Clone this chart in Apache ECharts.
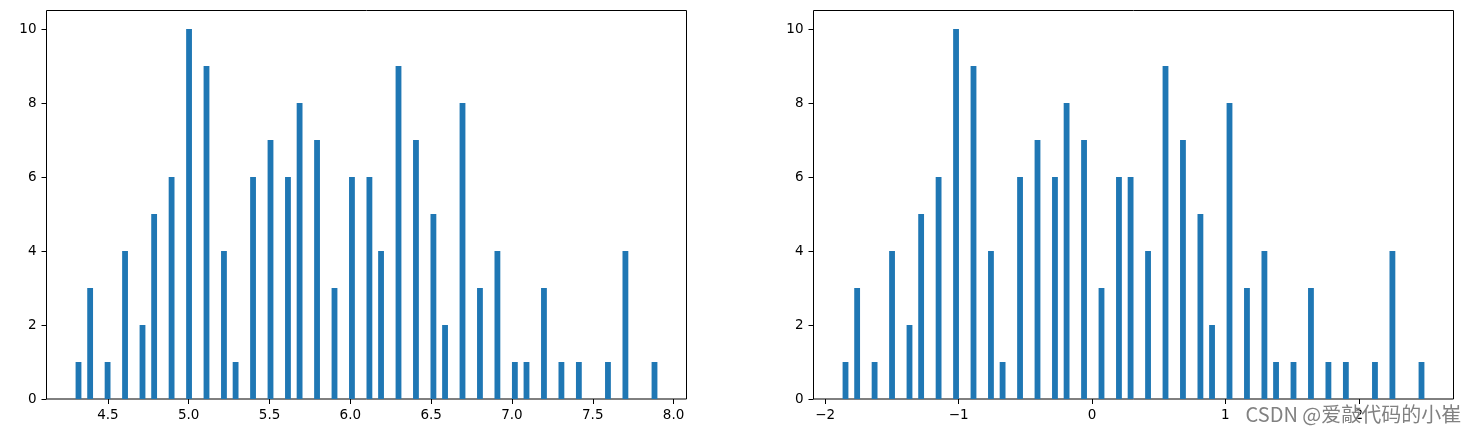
<!DOCTYPE html>
<html>
<head>
<meta charset="utf-8">
<script src="https://cdn.jsdelivr.net/npm/echarts@6/dist/echarts.min.js"></script>
<style>html,body{margin:0;padding:0;background:#fff}#c{width:1471px;height:435px}</style>
</head>
<body>
<div id="c"></div>
<script>
// Iris sepal length values and how many times each occurs
const sepalValues = [4.3,4.4,4.5,4.6,4.7,4.8,4.9,5.0,5.1,5.2,5.3,5.4,5.5,5.6,5.7,5.8,5.9,6.0,6.1,6.2,6.3,6.4,6.5,6.6,6.7,6.8,6.9,7.0,7.1,7.2,7.3,7.4,7.6,7.7,7.9];
const sepalCounts = [1,3,1,4,2,5,6,10,9,4,1,6,7,6,8,7,3,6,6,4,9,7,5,2,8,3,4,1,1,3,1,1,1,4,1];
const binCount = 100;
const leftTicks = [4.5,5.0,5.5,6.0,6.5,7.0,7.5,8.0];
const rightTicks = [-2,-1,0,1,2];
const yTicks = [0,2,4,6,8,10];

// expand to raw samples
const raw = [];
sepalValues.forEach((v,i)=>{ for(let k=0;k<sepalCounts[i];k++) raw.push(v); });
const n = raw.length;
const mean = raw.reduce((a,b)=>a+b,0)/n;
const std = Math.sqrt(raw.reduce((a,b)=>a+(b-mean)*(b-mean),0)/n);
const scaled = raw.map(v=>(v-mean)/std);

function histogram(arr){
  const lo = Math.min(...arr), hi = Math.max(...arr);
  const step = (hi-lo)/binCount;
  const edges = [];
  for(let i=0;i<=binCount;i++) edges.push(lo + i*step);
  edges[binCount] = hi;
  const counts = new Array(binCount).fill(0);
  const norm = binCount/(hi-lo);
  arr.forEach(v=>{
    let idx = Math.floor((v-lo)*norm);
    if(idx===binCount) idx--;
    if(v < edges[idx]) idx--;
    if(idx !== binCount-1 && v >= edges[idx+1]) idx++;
    counts[idx]++;
  });
  const data = [];
  counts.forEach((c,i)=>{ if(c>0) data.push([edges[i], edges[i+1], c]); });
  const m = (hi-lo)*0.05;
  return {data, min: lo-m, max: hi+m, maxCount: Math.max(...counts)};
}
const hL = histogram(raw);
const hR = histogram(scaled);

const chart = echarts.init(document.getElementById('c'), null, {renderer:'canvas'});
const font = 'DejaVu Sans';
function xAxis(idx, h, ticks){
  return {
    type:'value', gridIndex: idx, min: h.min, max: h.max, position:'bottom',
    axisLine:{show:false, onZero:false},
    splitLine:{show:false},
    axisTick:{show:true, length:5, lineStyle:{color:'#000', width:1}, customValues: ticks},
    axisLabel:{show:true, customValues: ticks, color:'#000', fontFamily:font, fontSize:13.5, margin:9,
      formatter: v => (idx===0 ? v.toFixed(1) : (v<0 ? '\u2212'+Math.abs(v) : String(v)))}
  };
}
function yAxis(idx, h){
  return {
    type:'value', gridIndex: idx, min:0, max: h.maxCount*1.05, position:'left',
    axisLine:{show:false, onZero:false}, splitLine:{show:false},
    axisTick:{show:true, length:5, lineStyle:{color:'#000', width:1}, customValues: yTicks},
    axisLabel:{show:true, customValues: yTicks, color:'#000', fontFamily:font, fontSize:13.5, margin:10}
  };
}
function renderBar(params, api){
  const s = api.coord([api.value(0), api.value(2)]);
  const e = api.coord([api.value(1), 0]);
  return {type:'rect', shape:{x:s[0], y:s[1], width:e[0]-s[0], height:e[1]-s[1]},
    style:{fill:'#1f77b4'}};
}
chart.setOption({
  animation:false,
  grid:[
    {left:46.5, right:784.5, top:10.5, bottom:36, show:true, borderColor:'#000', borderWidth:1, backgroundColor:'#fff'},
    {left:813.5, right:17.5, top:10.5, bottom:36, show:true, borderColor:'#000', borderWidth:1, backgroundColor:'#fff'}
  ],
  xAxis:[xAxis(0,hL,leftTicks), xAxis(1,hR,rightTicks)],
  yAxis:[yAxis(0,hL), yAxis(1,hR)],
  series:[
    {type:'custom', xAxisIndex:0, yAxisIndex:0, renderItem:renderBar, data:hL.data, encode:{x:[0,1], y:2}, clip:true},
    {type:'custom', xAxisIndex:1, yAxisIndex:1, renderItem:renderBar, data:hR.data, encode:{x:[0,1], y:2}, clip:true}
  ],
  graphic:[{
    type:'text', left:1245, top:404, z:100,
    style:{text:'CSDN @爱敲代码的小崔', fill:'rgba(115,115,115,0.9)', font:'20px "Noto Sans CJK SC", sans-serif',
      stroke:'rgba(255,255,255,0.6)', lineWidth:1}
  }]
});
</script>
</body>
</html>
